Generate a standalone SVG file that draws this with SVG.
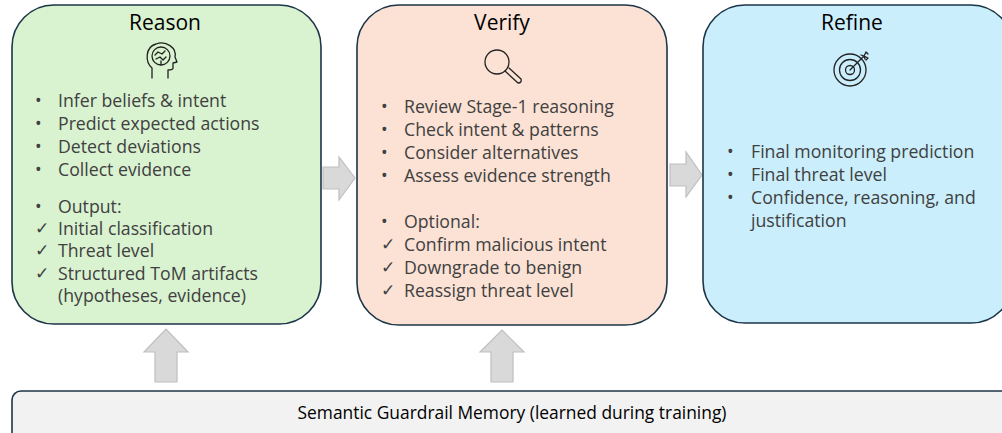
<svg xmlns="http://www.w3.org/2000/svg" width="1002" height="433" viewBox="0 0 1002 433">
<style>
.box{stroke:#1c3547;stroke-width:1.6}
.title{font-family:"Open Sans","Liberation Sans",sans-serif;font-size:21px;fill:#000;text-anchor:middle}
.item{font-family:"Open Sans","Liberation Sans",sans-serif;font-size:17.7px;fill:#404040}
.mark{font-family:"DejaVu Sans",sans-serif;font-size:17px;fill:#404040}
.mem{font-family:"Open Sans","Liberation Sans",sans-serif;font-size:17.4px;fill:#000;text-anchor:middle}
.arrow{fill:#d9d9d9;stroke:#bfbfbf;stroke-width:1.2}
.icon{fill:none;stroke:#222;stroke-width:1.3;stroke-linecap:round;stroke-linejoin:round}
</style>
<rect width="1002" height="433" fill="#fff"/>
<g id="connectors">
<path class="arrow" d="M323,167 H339 V157 L355,178 L339,200 V189 H323 Z"/>
<path class="arrow" d="M670,164 H686 V152 L702,175 L686,197 V186 H670 Z"/>
<path class="arrow" d="M155,382 V352 H144 L166,329 L188,352 H177 V382 Z"/>
<path class="arrow" d="M491,382 V352 H480 L502,330 L524,352 H513 V382 Z"/>
</g>
<g id="reason">
<rect class="box" x="12" y="5" width="309" height="319" rx="42" fill="#d9f2d0"/>
<text class="title" x="165" y="30">Reason</text>
<g class="icon">
<path d="M152,78 V68 C145,62 145,47 156,44 C166,40 177,48 175,57 L177,62 L173,63 V68 C173,70 171,70 168,70 V78"/>
<circle cx="161" cy="56" r="9"/>
<path d="M155,55 L158,52 L162,54 L165,51 M156,59 L160,57 L163,60 L166,57 M161,65 V61"/>
</g>
<text class="item"><tspan x="35" y="107">•</tspan><tspan x="58" y="107">Infer beliefs &amp; intent</tspan>
<tspan x="35" y="130">•</tspan><tspan x="58" y="130">Predict expected actions</tspan>
<tspan x="35" y="153">•</tspan><tspan x="58" y="153">Detect deviations</tspan>
<tspan x="35" y="176">•</tspan><tspan x="58" y="176">Collect evidence</tspan>
<tspan x="35" y="213">•</tspan><tspan x="58" y="213">Output:</tspan>
<tspan x="58" y="235">Initial classification</tspan>
<tspan x="58" y="257">Threat level</tspan>
<tspan x="58" y="280">Structured ToM artifacts</tspan>
<tspan x="58" y="302">(hypotheses, evidence)</tspan></text>
<text class="mark"><tspan x="35" y="234">✓</tspan><tspan x="35" y="256">✓</tspan><tspan x="35" y="279">✓</tspan></text>
</g>
<g id="verify">
<rect class="box" x="357" y="5" width="310" height="320" rx="42" fill="#fbe2d5"/>
<text class="title" x="502" y="30">Verify</text>
<g class="icon">
<circle cx="497" cy="62" r="12"/>
<path d="M505,71 L518,83 M509,68 L521,79 M518,83 Q522,83 521,79"/>
</g>
<text class="item"><tspan x="381" y="113">•</tspan><tspan x="404" y="113">Review Stage-1 reasoning</tspan>
<tspan x="381" y="136">•</tspan><tspan x="404" y="136">Check intent &amp; patterns</tspan>
<tspan x="381" y="159">•</tspan><tspan x="404" y="159">Consider alternatives</tspan>
<tspan x="381" y="182">•</tspan><tspan x="404" y="182">Assess evidence strength</tspan>
<tspan x="381" y="228">•</tspan><tspan x="404" y="228">Optional:</tspan>
<tspan x="404" y="251">Confirm malicious intent</tspan>
<tspan x="404" y="274">Downgrade to benign</tspan>
<tspan x="404" y="297">Reassign threat level</tspan></text>
<text class="mark"><tspan x="381" y="250">✓</tspan><tspan x="381" y="273">✓</tspan><tspan x="381" y="296">✓</tspan></text>
</g>
<g id="refine">
<rect class="box" x="703" y="5" width="310" height="318" rx="42" fill="#caeefb"/>
<text class="title" x="852" y="30">Refine</text>
<g class="icon">
<circle cx="850" cy="70" r="16"/>
<circle cx="850" cy="70" r="10.5"/>
<circle cx="850" cy="70" r="4.5"/>
<path d="M850,70 L864,56 M861,55 L864,56 L865,59 M864,56 L866,52 L868,54 M864,56 L868,58 L866,60"/>
</g>
<text class="item"><tspan x="727" y="158">•</tspan><tspan x="751" y="158">Final monitoring prediction</tspan>
<tspan x="727" y="181">•</tspan><tspan x="751" y="181">Final threat level</tspan>
<tspan x="727" y="204">•</tspan><tspan x="751" y="204">Confidence, reasoning, and</tspan>
<tspan x="751" y="227">justification</tspan></text>
</g>
<g id="memory">
<rect class="box" x="12" y="391" width="1010" height="50" rx="9" fill="#f2f2f2"/>
<text class="mem" x="512" y="419">Semantic Guardrail Memory (learned during training)</text>
</g>
</svg>
